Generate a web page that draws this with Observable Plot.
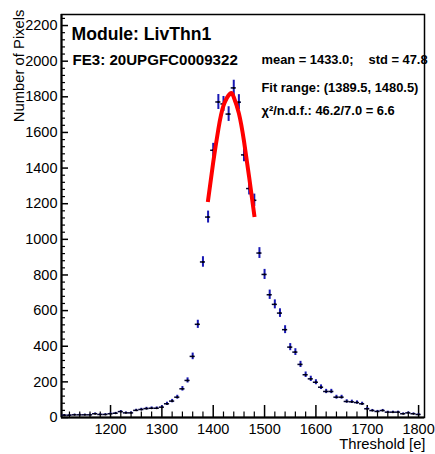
<!DOCTYPE html>
<html><head><meta charset="utf-8">
<script src="https://cdn.jsdelivr.net/npm/d3@7"></script>
<script src="https://cdn.jsdelivr.net/npm/@observablehq/plot@0.6"></script>
<style>html,body{margin:0;padding:0;background:#fff;} svg{display:block}</style>
</head><body><div id="chart"></div>
<script>
// Histogram bin centres (Threshold [e]) and counts (Number of Pixels)
const binCenters = [1110,1120,1130,1140,1150,1160,1170,1180,1190,1200,1210,1220,1230,1240,1250,1260,1270,1280,1290,1300,1310,1320,1330,1340,1350,1360,1370,1380,1390,1400,1410,1420,1430,1440,1450,1460,1470,1480,1490,1500,1510,1520,1530,1540,1550,1560,1570,1580,1590,1600,1610,1620,1630,1640,1650,1660,1670,1680,1690,1700,1710,1720,1730,1740,1750,1760,1770,1780,1790,1800];
const counts = [13,13,15,15,15,15,21,17,17,21,24,33,26,26,40,45,50,52,52,58,77,92,114,161,208,343,523,873,1125,1500,1771,1760,1703,1850,1770,1474,1285,1219,923,803,689,635,586,493,395,367,298,240,217,198,170,146,146,114,114,90,88,84,77,49,39,34,39,30,30,30,21,26,21,17];
const binWidth = 10;

// Gaussian fit curve
const fitX = [1389.5,1400,1410,1420,1433,1440,1450,1460,1470,1480.5];
const fitY = [1210,1433,1618,1750,1818,1798,1707,1550,1348,1125];

// Axes
const xDomain = [1104.5, 1811.5];
const yDomain = [0, 2262];
const xTickValues = [1200,1300,1400,1500,1600,1700,1800];
const yTickValues = [0,200,400,600,800,1000,1200,1400,1600,1800,2000,2200];
const xMinor = d3.range(1120, 1801, 20).filter(v => v % 100 !== 0);
const yMinor = d3.range(40, 2241, 40).filter(v => v % 200 !== 0);

// Texts
const titleText = "Module: LivThn1";
const subText = "FE3: 20UPGFC0009322";
const meanText = "mean = 1433.0;";
const stdText = "std = 47.8";
const fitRangeText = "Fit range: (1389.5, 1480.5)";
const chiText = "χ²/n.d.f.: 46.2/7.0 = 6.6";
const xLabel = "Threshold [e]";
const yLabel = "Number of Pixels";

const data = binCenters.map((x, i) => ({x, n: counts[i]}));
const fit = fitX.map((x, i) => ({x, y: fitY[i]}));

const W = 435, H = 454, mL = 61, mR = 11, mT = 14, mB = 37;
const innerW = W - mL - mR, innerH = H - mT - mB;
const font = "'Liberation Sans', Arial, Helvetica, sans-serif";

const chart = Plot.plot({
  width: W, height: H,
  marginLeft: mL, marginRight: mR, marginTop: mT, marginBottom: mB,
  style: {fontFamily: font, fontSize: "14.5px", color: "black", background: "white"},
  x: {domain: xDomain},
  y: {domain: yDomain},
  marks: [
    Plot.frame({stroke: "black", strokeWidth: 1.5}),
    Plot.ruleX([xDomain[0]], {stroke: "black", strokeWidth: 2}),
    Plot.ruleY([yDomain[0]], {stroke: "black", strokeWidth: 2}),
    // ticks (inward)
    Plot.tickX(xTickValues, {x: d => d, insetTop: innerH - 12, stroke: "black", strokeWidth: 1.5}),
    Plot.tickX(xMinor, {x: d => d, insetTop: innerH - 5.5, stroke: "black", strokeWidth: 1.2}),
    Plot.tickY(yTickValues, {y: d => d, insetRight: innerW - 7, stroke: "black", strokeWidth: 1.5}),
    Plot.tickY(yMinor, {y: d => d, insetRight: innerW - 4, stroke: "black", strokeWidth: 1.2}),
    Plot.axisX(xTickValues, {tickSize: 0, tickPadding: 6, tickFormat: d => String(d), label: null, fontSize: 14.5}),
    Plot.axisY(yTickValues, {tickSize: 0, tickPadding: 4, tickFormat: d => String(d), label: null, fontSize: 14.5}),
    // error bars
    Plot.ruleX(data, {x: "x", y1: d => d.n - Math.sqrt(d.n), y2: d => d.n + Math.sqrt(d.n), stroke: "#1818b4", strokeWidth: 2}),
    Plot.ruleY(data, {y: "n", x1: d => d.x - binWidth / 2, x2: d => d.x + binWidth / 2, stroke: "#000033", strokeWidth: 1.5}),
    Plot.dot(data, {x: "x", y: "n", r: 1, fill: "black"}),
    // fit
    Plot.line(fit, {x: "x", y: "y", stroke: "#ff0000", strokeWidth: 4, curve: "natural", strokeLinecap: "butt"}),
    // texts
    Plot.text([titleText], {text: d => d, frameAnchor: "top-left", textAnchor: "start", dx: 10, dy: 33 - mT - 0.32 * 17.6, fontSize: 17.6, fontWeight: "bold", fill: "black"}),
    Plot.text([subText], {text: d => d, frameAnchor: "top-left", textAnchor: "start", dx: 11, dy: 58.3 - mT - 0.32 * 15.1, fontSize: 15.1, fontWeight: "bold", fill: "black"}),
    Plot.text([meanText], {text: d => d, frameAnchor: "top-left", textAnchor: "start", dx: 261 - mL, dy: 58 - mT - 0.32 * 12.9, fontSize: 12.9, fontWeight: "bold", fill: "black"}),
    Plot.text([stdText], {text: d => d, frameAnchor: "top-left", textAnchor: "start", dx: 368 - mL, dy: 58 - mT - 0.32 * 12.9, fontSize: 12.9, fontWeight: "bold", fill: "black"}),
    Plot.text([fitRangeText], {text: d => d, frameAnchor: "top-left", textAnchor: "start", dx: 261 - mL, dy: 86.5 - mT - 0.32 * 12.9, fontSize: 12.9, fontWeight: "bold", fill: "black"}),
    Plot.text([chiText], {text: d => d, frameAnchor: "top-left", textAnchor: "start", dx: 261 - mL, dy: 109 - mT - 0.32 * 12.9, fontSize: 12.9, fontWeight: "bold", fill: "black"}),
    Plot.text([xLabel], {text: d => d, frameAnchor: "bottom-right", textAnchor: "end", dx: 1, dy: 453 - (H - mB) - 0.32 * 14.8, fontSize: 14.8, fill: "black"}),
    Plot.text([yLabel], {text: d => d, frameAnchor: "top-left", textAnchor: "end", rotate: -90, dx: (18 - 0.32 * 14.8) - mL, dy: 9 - mT, fontSize: 14.8, fill: "black"})
  ]
});
document.getElementById("chart").appendChild(chart);
</script>
</body></html>
